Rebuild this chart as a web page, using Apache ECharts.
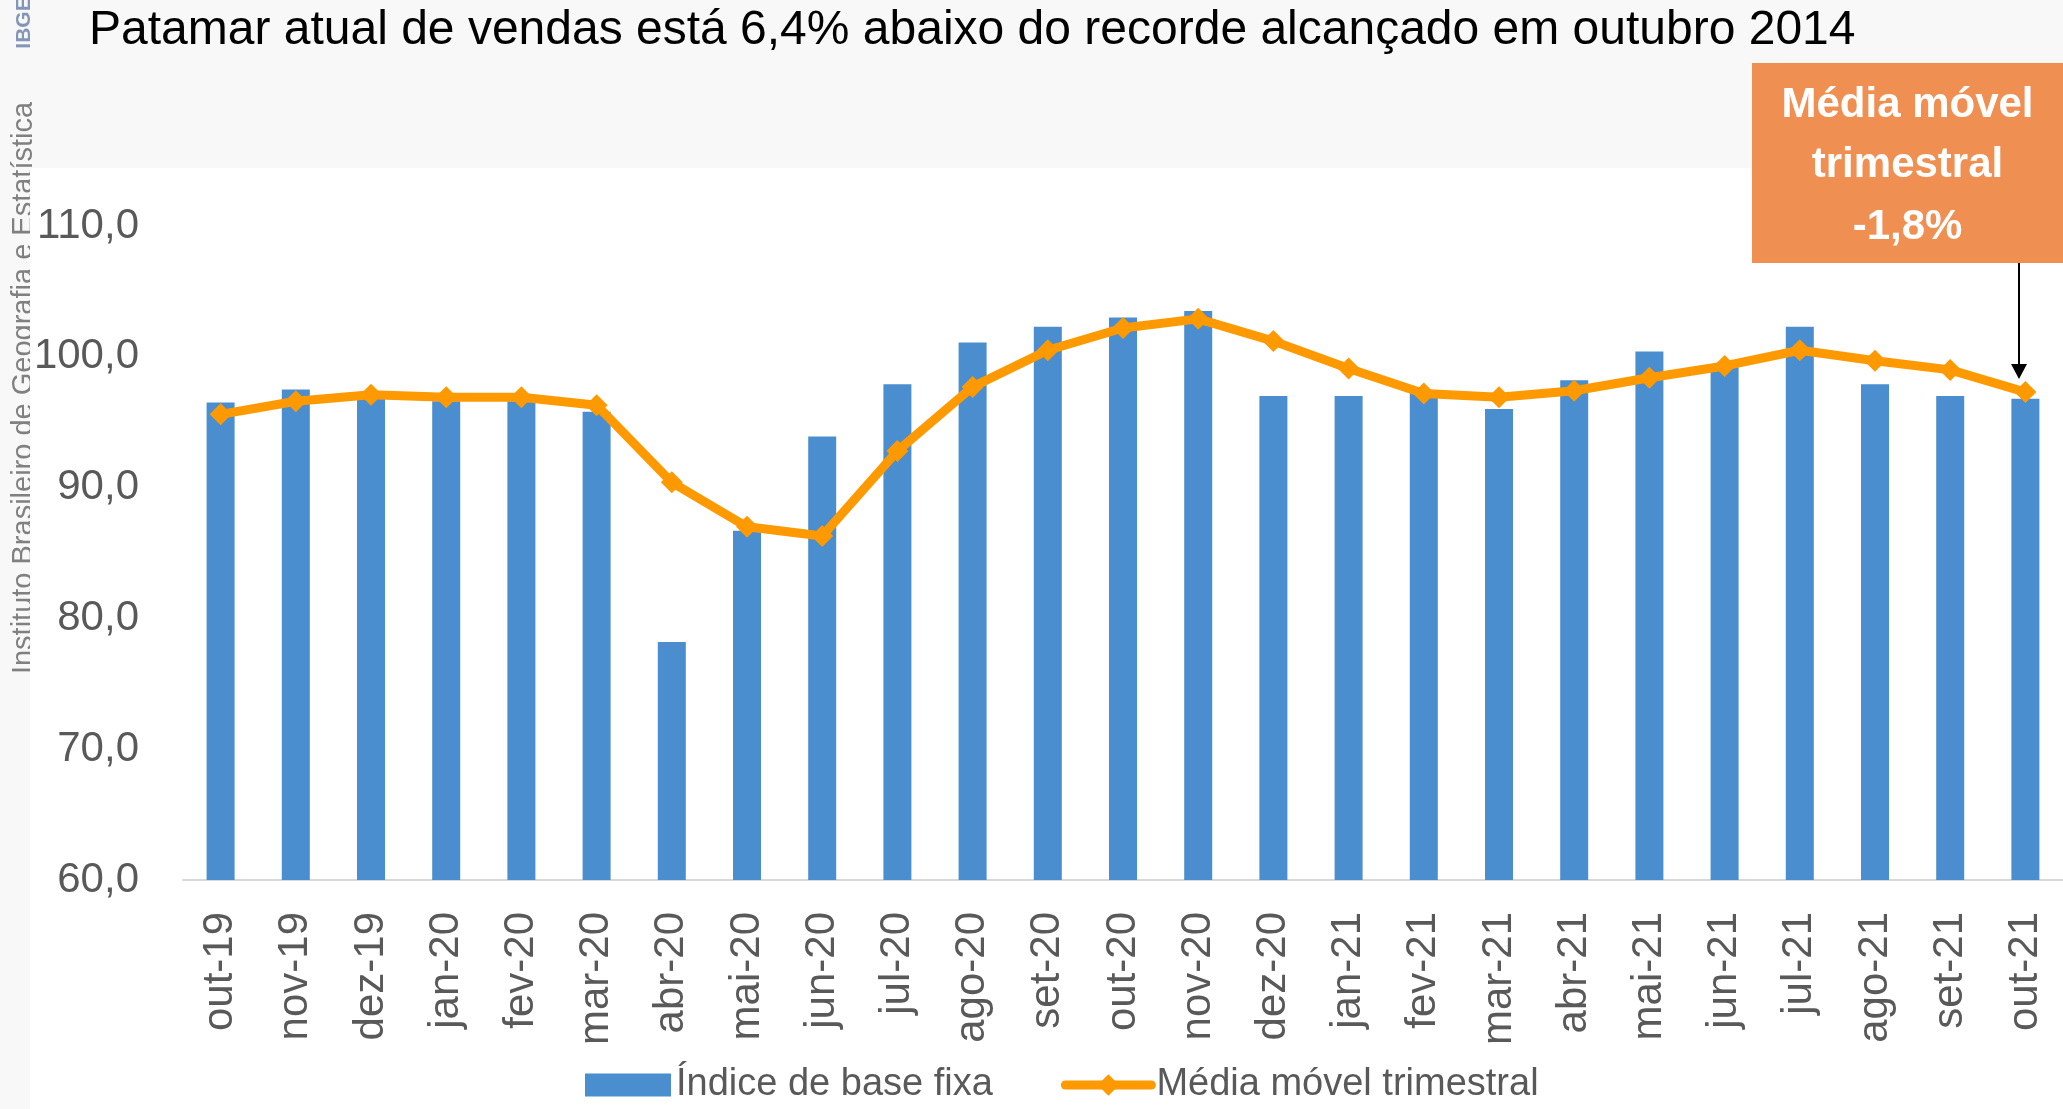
<!DOCTYPE html>
<html>
<head>
<meta charset="utf-8">
<script src="https://cdn.jsdelivr.net/npm/echarts@6/dist/echarts.min.js"></script>
<style>
html,body{margin:0;padding:0;background:#f8f8f8;}
#c{width:2063px;height:1109px;}
</style>
</head>
<body>
<div id="c"></div>
<script>
var categories = ['out-19','nov-19','dez-19','jan-20','fev-20','mar-20','abr-20','mai-20','jun-20','jul-20','ago-20','set-20','out-20','nov-20','dez-20','jan-21','fev-21','mar-21','abr-21','mai-21','jun-21','jul-21','ago-21','set-21','out-21'];
var indiceBaseFixa = [96.5, 97.5, 97.0, 96.6, 96.6, 95.8, 78.2, 86.7, 93.9, 97.9, 101.1, 102.3, 103.0, 103.5, 97.0, 97.0, 97.3, 96.0, 98.2, 100.4, 99.2, 102.3, 97.9, 97.0, 96.8];
var mediaMovel = [95.6, 96.6, 97.1, 96.9, 96.9, 96.3, 90.4, 87.0, 86.3, 92.8, 97.7, 100.5, 102.2, 102.9, 101.2, 99.1, 97.2, 96.9, 97.4, 98.4, 99.3, 100.5, 99.7, 99.0, 97.3];
var yTicks = [60, 70, 80, 90, 100, 110];
var titleText = 'Patamar atual de vendas está 6,4% abaixo do recorde alcançado em outubro 2014';
var boxLines = ['Média móvel', 'trimestral', '-1,8%'];

var FONT = 'Liberation Sans, Arial, sans-serif';
var chart = echarts.init(document.getElementById('c'));
var option = {
  backgroundColor: '#f8f8f8',
  animation: false,
  title: {
    text: titleText,
    left: 84, top: 2,
    textStyle: {fontFamily: FONT, fontSize: 48, fontWeight: 'normal', color: '#000'}
  },
  legend: {
    left: 580, top: 1061,
    itemWidth: 86, itemHeight: 27, itemGap: 68,
    symbolKeepAspect: true,
    lineStyle: {width: 9, cap: 'round'},
    textStyle: {fontFamily: FONT, fontSize: 38, color: '#595959'},
    data: [
      {name: 'Índice de base fixa', icon: 'path://M0,0H83V22H0Z'},
      {name: 'Média móvel trimestral'}
    ]
  },
  grid: {left: 183, top: 226, width: 1885, height: 654, containLabel: false},
  xAxis: {
    type: 'category',
    data: categories,
    axisLine: {lineStyle: {color: '#d9d9d9', width: 2}},
    axisTick: {show: false},
    axisLabel: {rotate: 90, margin: 32, fontFamily: FONT, fontSize: 42, color: '#595959'}
  },
  yAxis: {
    type: 'value',
    min: yTicks[0], max: yTicks[yTicks.length - 1], interval: 10,
    axisLine: {show: false}, axisTick: {show: false}, splitLine: {show: false},
    axisLabel: {
      margin: 44, fontFamily: FONT, fontSize: 42, color: '#595959',
      formatter: function (v) { return v.toFixed(1).replace('.', ','); }
    }
  },
  series: [
    {
      name: 'Índice de base fixa', type: 'bar', data: indiceBaseFixa,
      barWidth: 28,
      itemStyle: {color: '#4a8ecf'}
    },
    {
      name: 'Média móvel trimestral', type: 'line', data: mediaMovel,
      symbol: 'diamond', symbolSize: 22,
      lineStyle: {color: '#ff9900', width: 9},
      itemStyle: {color: '#ff9900'},
      z: 3
    }
  ]
};
chart.setOption(option);

var p = chart.convertToPixel({seriesIndex: 1}, [categories.length - 1, mediaMovel[mediaMovel.length - 1]]);
var ax = Math.round(p[0]) - 6;
var tipY = Math.round(p[1]) - 13;
var boxX = 1752, boxY = 63, boxW = 311, boxH = 200;
function ctext(x, y, t, font, fill, z, rot) {
  return {type: 'text', z: z, x: x, y: y, rotation: rot || 0,
    style: {text: t, fill: fill, font: font, textAlign: 'center', textVerticalAlign: 'middle', align: 'center', verticalAlign: 'middle'}};
}

chart.setOption({
  graphic: [
    ctext(24, 388, 'Instituto Brasileiro de Geografia e Estatística', '29px "Liberation Sans", Arial, sans-serif', '#808080', -3, Math.PI / 2),
    ctext(24, 23, 'IBGE', 'bold 21px "Liberation Sans", Arial, sans-serif', '#8496b8', -3, Math.PI / 2),
    {type: 'rect', z: -2, shape: {x: 30, y: 168, width: 2033, height: 941}, style: {fill: '#ffffff'}},
    {type: 'rect', z: 10, shape: {x: boxX, y: boxY, width: boxW, height: boxH}, style: {fill: '#f08f52'}},
    ctext(boxX + boxW / 2, 105, boxLines[0], 'bold 42px "Liberation Sans", Arial, sans-serif', '#fff', 11),
    ctext(boxX + boxW / 2, 165, boxLines[1], 'bold 42px "Liberation Sans", Arial, sans-serif', '#fff', 11),
    ctext(boxX + boxW / 2, 227, boxLines[2], 'bold 42px "Liberation Sans", Arial, sans-serif', '#fff', 11),
    {type: 'line', z: 11, shape: {x1: ax, y1: boxY + boxH, x2: ax, y2: tipY - 14}, style: {stroke: '#000', lineWidth: 2}},
    {type: 'polygon', z: 11, shape: {points: [[ax - 8, tipY - 15], [ax + 8, tipY - 15], [ax, tipY]]}, style: {fill: '#000'}}
  ]
});
</script>
</body>
</html>
